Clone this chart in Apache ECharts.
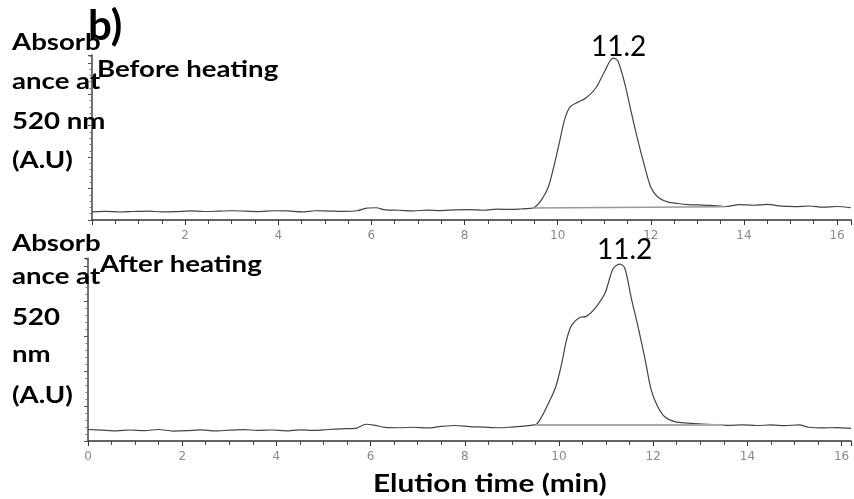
<!DOCTYPE html>
<html>
<head>
    <meta charset="utf-8">
    <title>Elution profile</title>
    <script src="https://cdn.jsdelivr.net/npm/echarts@6/dist/echarts.min.js"></script>
    <style>
        body { margin: 0; background: #fff; }
    </style>
</head>
<body>
    <div id="main" style="width:854px; height:499px;"></div>

    <script type="text/javascript">

        // before heating trace (time in min, absorbance a.u.)
        var beforeTime = [0, 0.3, 0.6, 0.9, 1.2, 1.5, 1.8, 2.1, 2.4, 2.7, 3.0, 3.3, 3.6, 3.9, 4.2, 4.5, 4.8, 5.1, 5.4, 5.7,
            5.9, 6.1, 6.3, 6.6, 6.9, 7.2, 7.5, 7.8, 8.1, 8.4, 8.7, 9.0, 9.2, 9.4, 9.5, 9.65, 9.8, 9.95, 10.05, 10.16,
            10.27, 10.44, 10.6, 10.82, 11.0, 11.19, 11.29, 11.44, 11.57, 11.72, 11.87, 12.0, 12.15, 12.36, 12.58, 12.8,
            13.0, 13.3, 13.6, 13.9, 14.2, 14.5, 14.8, 15.1, 15.4, 15.7, 16.0, 16.3];
        var beforeAbs = [0.2, 0.5, 0.1, 0.4, 0.6, 0.2, 0.3, 0.8, 0.4, 0.6, 0.9, 0.7, 0.3, 0.9, 0.8, 0.2, 0.9, 0.7, 0.5, 0.9,
            2.6, 2.8, 1.4, 1.2, 0.8, 1.3, 1.0, 1.5, 1.6, 1.2, 1.9, 1.7, 2.0, 2.4, 3.0, 7.7, 16, 33, 46, 60,
            67, 70, 72.5, 79, 89, 98, 96.5, 82, 65, 46, 29, 16, 9.6, 6.5, 5.5, 4.8,
            4.6, 4.3, 3.6, 4.8, 4.4, 4.9, 3.8, 3.5, 3.9, 3.2, 3.6, 2.8];

        // after heating trace
        var afterTime = [0, 0.3, 0.6, 0.9, 1.2, 1.5, 1.8, 2.1, 2.4, 2.7, 3.0, 3.3, 3.6, 3.9, 4.2, 4.5, 4.8, 5.1, 5.4, 5.7,
            5.9, 6.1, 6.3, 6.6, 6.9, 7.2, 7.5, 7.8, 8.1, 8.4, 8.7, 9.0, 9.2, 9.4, 9.52, 9.63, 9.78, 9.93, 10.06, 10.16,
            10.27, 10.45, 10.58, 10.79, 10.98, 11.15, 11.3, 11.4, 11.53, 11.68, 11.83, 11.96, 12.1, 12.25, 12.47, 12.74,
            13.0, 13.3, 13.6, 13.9, 14.2, 14.5, 14.8, 15.1, 15.3, 15.6, 15.9, 16.2];
        var afterAbs = [1.6, 1.2, 0.8, 1.3, 1.0, 1.6, 0.7, 0.9, 1.4, 0.8, 1.2, 1.5, 1.1, 1.3, 0.8, 1.4, 1.1, 1.6, 2.0, 2.4,
            4.6, 4.0, 2.8, 2.6, 2.9, 2.5, 3.4, 3.9, 3.3, 3.0, 2.6, 3.0, 3.4, 4.0, 4.6, 8.8, 16.8, 26, 39.7, 53,
            61.5, 66, 66.5, 72, 80, 94, 96.5, 94, 77.6, 60.4, 41.5, 24, 14.5, 8.8, 6, 5.3,
            4.8, 4.4, 4.0, 4.3, 3.9, 4.2, 3.8, 4.3, 2.9, 2.5, 2.7, 2.2];

        // integration baselines drawn under the peaks
        var beforeBaseTime = [9.45, 13.6];
        var beforeBaseAbs = [2.6, 3.4];
        var afterBaseTime = [9.5, 13.5];
        var afterBaseAbs = [4.2, 4.2];

        var xTicks = [0, 2, 4, 6, 8, 10, 12, 14, 16];
        var peakLabel = '11.2';

        function pairs(xs, ys) {
            return xs.map(function(x, i) { return [x, ys[i]]; });
        }

        function xAxisFor(gridIndex, maxX, hideZero) {
            return {
                type: 'value',
                gridIndex: gridIndex,
                min: 0,
                max: maxX,
                interval: 2,
                axisLine: { show: true, onZero: false, lineStyle: { color: '#333', width: 1.5 } },
                axisTick: { show: true, length: 5, lineStyle: { color: '#333' } },
                minorTick: { show: true, splitNumber: 4, length: 4, lineStyle: { color: '#444' } },
                splitLine: { show: false },
                axisLabel: {
                    color: '#8a8a8a',
                    fontSize: 12,
                    fontFamily: 'DejaVu Sans',
                    margin: 10,
                    formatter: function(v) {
                        if (xTicks.indexOf(v) < 0) return '';
                        if (hideZero && v === 0) return '';
                        return String(v);
                    }
                }
            };
        }

        function yAxisFor(gridIndex) {
            return {
                type: 'value',
                gridIndex: gridIndex,
                min: -5,
                max: 100,
                interval: 20,
                axisLine: { show: true, lineStyle: { color: '#444', width: 1.5 } },
                axisTick: { show: true, length: 4, lineStyle: { color: '#555' } },
                minorTick: { show: true, splitNumber: 5, length: 2.5, lineStyle: { color: '#777' } },
                splitLine: { show: false },
                axisLabel: { show: false }
            };
        }

        function boldText(x, y, text, size, sx) {
            return {
                type: 'text',
                x: x,
                y: y,
                scaleX: sx || 1,
                z: 100,
                style: {
                    text: text,
                    fill: '#000',
                    font: 'bold ' + size + 'px Lato',
                    textAlign: 'left',
                    textVerticalAlign: 'middle'
                }
            };
        }

        var myChart = echarts.init(document.getElementById('main'));

        myChart.setOption({
            animation: false,
            backgroundColor: '#fff',
            grid: [
                { left: 92, width: 762, top: 55, height: 165 },
                { left: 88, width: 766, top: 258, height: 183 }
            ],
            xAxis: [xAxisFor(0, 16.3, true), xAxisFor(1, 16.2, false)],
            yAxis: [yAxisFor(0), yAxisFor(1)],
            series: [
                {
                    name: 'before',
                    type: 'line',
                    xAxisIndex: 0,
                    yAxisIndex: 0,
                    showSymbol: false,
                    smooth: 0.3,
                    lineStyle: { color: '#444', width: 1.2 },
                    data: pairs(beforeTime, beforeAbs)
                },
                {
                    name: 'before base',
                    type: 'line',
                    xAxisIndex: 0,
                    yAxisIndex: 0,
                    showSymbol: false,
                    lineStyle: { color: '#999', width: 1.5 },
                    data: pairs(beforeBaseTime, beforeBaseAbs)
                },
                {
                    name: 'after',
                    type: 'line',
                    xAxisIndex: 1,
                    yAxisIndex: 1,
                    showSymbol: false,
                    smooth: 0.3,
                    lineStyle: { color: '#444', width: 1.2 },
                    data: pairs(afterTime, afterAbs)
                },
                {
                    name: 'after base',
                    type: 'line',
                    xAxisIndex: 1,
                    yAxisIndex: 1,
                    showSymbol: false,
                    lineStyle: { color: '#aaa', width: 2 },
                    data: pairs(afterBaseTime, afterBaseAbs)
                }
            ],
            graphic: [
                boldText(88, 26, 'b)', 42, 1),
                boldText(12, 43, 'Absorb', 23, 1.2),
                boldText(12, 82, 'ance at', 23, 1.2),
                boldText(12, 122, '520 nm', 23, 1.2),
                boldText(12, 161, '(A.U)', 23, 1.2),
                boldText(97, 70, 'Before heating', 23, 1.2),
                boldText(12, 244, 'Absorb', 23, 1.2),
                boldText(12, 277, 'ance at', 23, 1.2),
                boldText(12, 318, '520', 23, 1.2),
                boldText(12, 355, 'nm', 23, 1.2),
                boldText(12, 396, '(A.U)', 23, 1.2),
                boldText(100, 265, 'After heating', 23, 1.2),
                boldText(373, 484, 'Elution time (min)', 25, 1.19),
                {
                    type: 'text', x: 591, y: 47, z: 100,
                    style: { text: peakLabel, fill: '#000', font: '28px Lato', textAlign: 'left', textVerticalAlign: 'middle' }
                },
                {
                    type: 'text', x: 597, y: 250, z: 100,
                    style: { text: peakLabel, fill: '#000', font: '28px Lato', textAlign: 'left', textVerticalAlign: 'middle' }
                }
            ]
        });
    </script>
</body>
</html>
